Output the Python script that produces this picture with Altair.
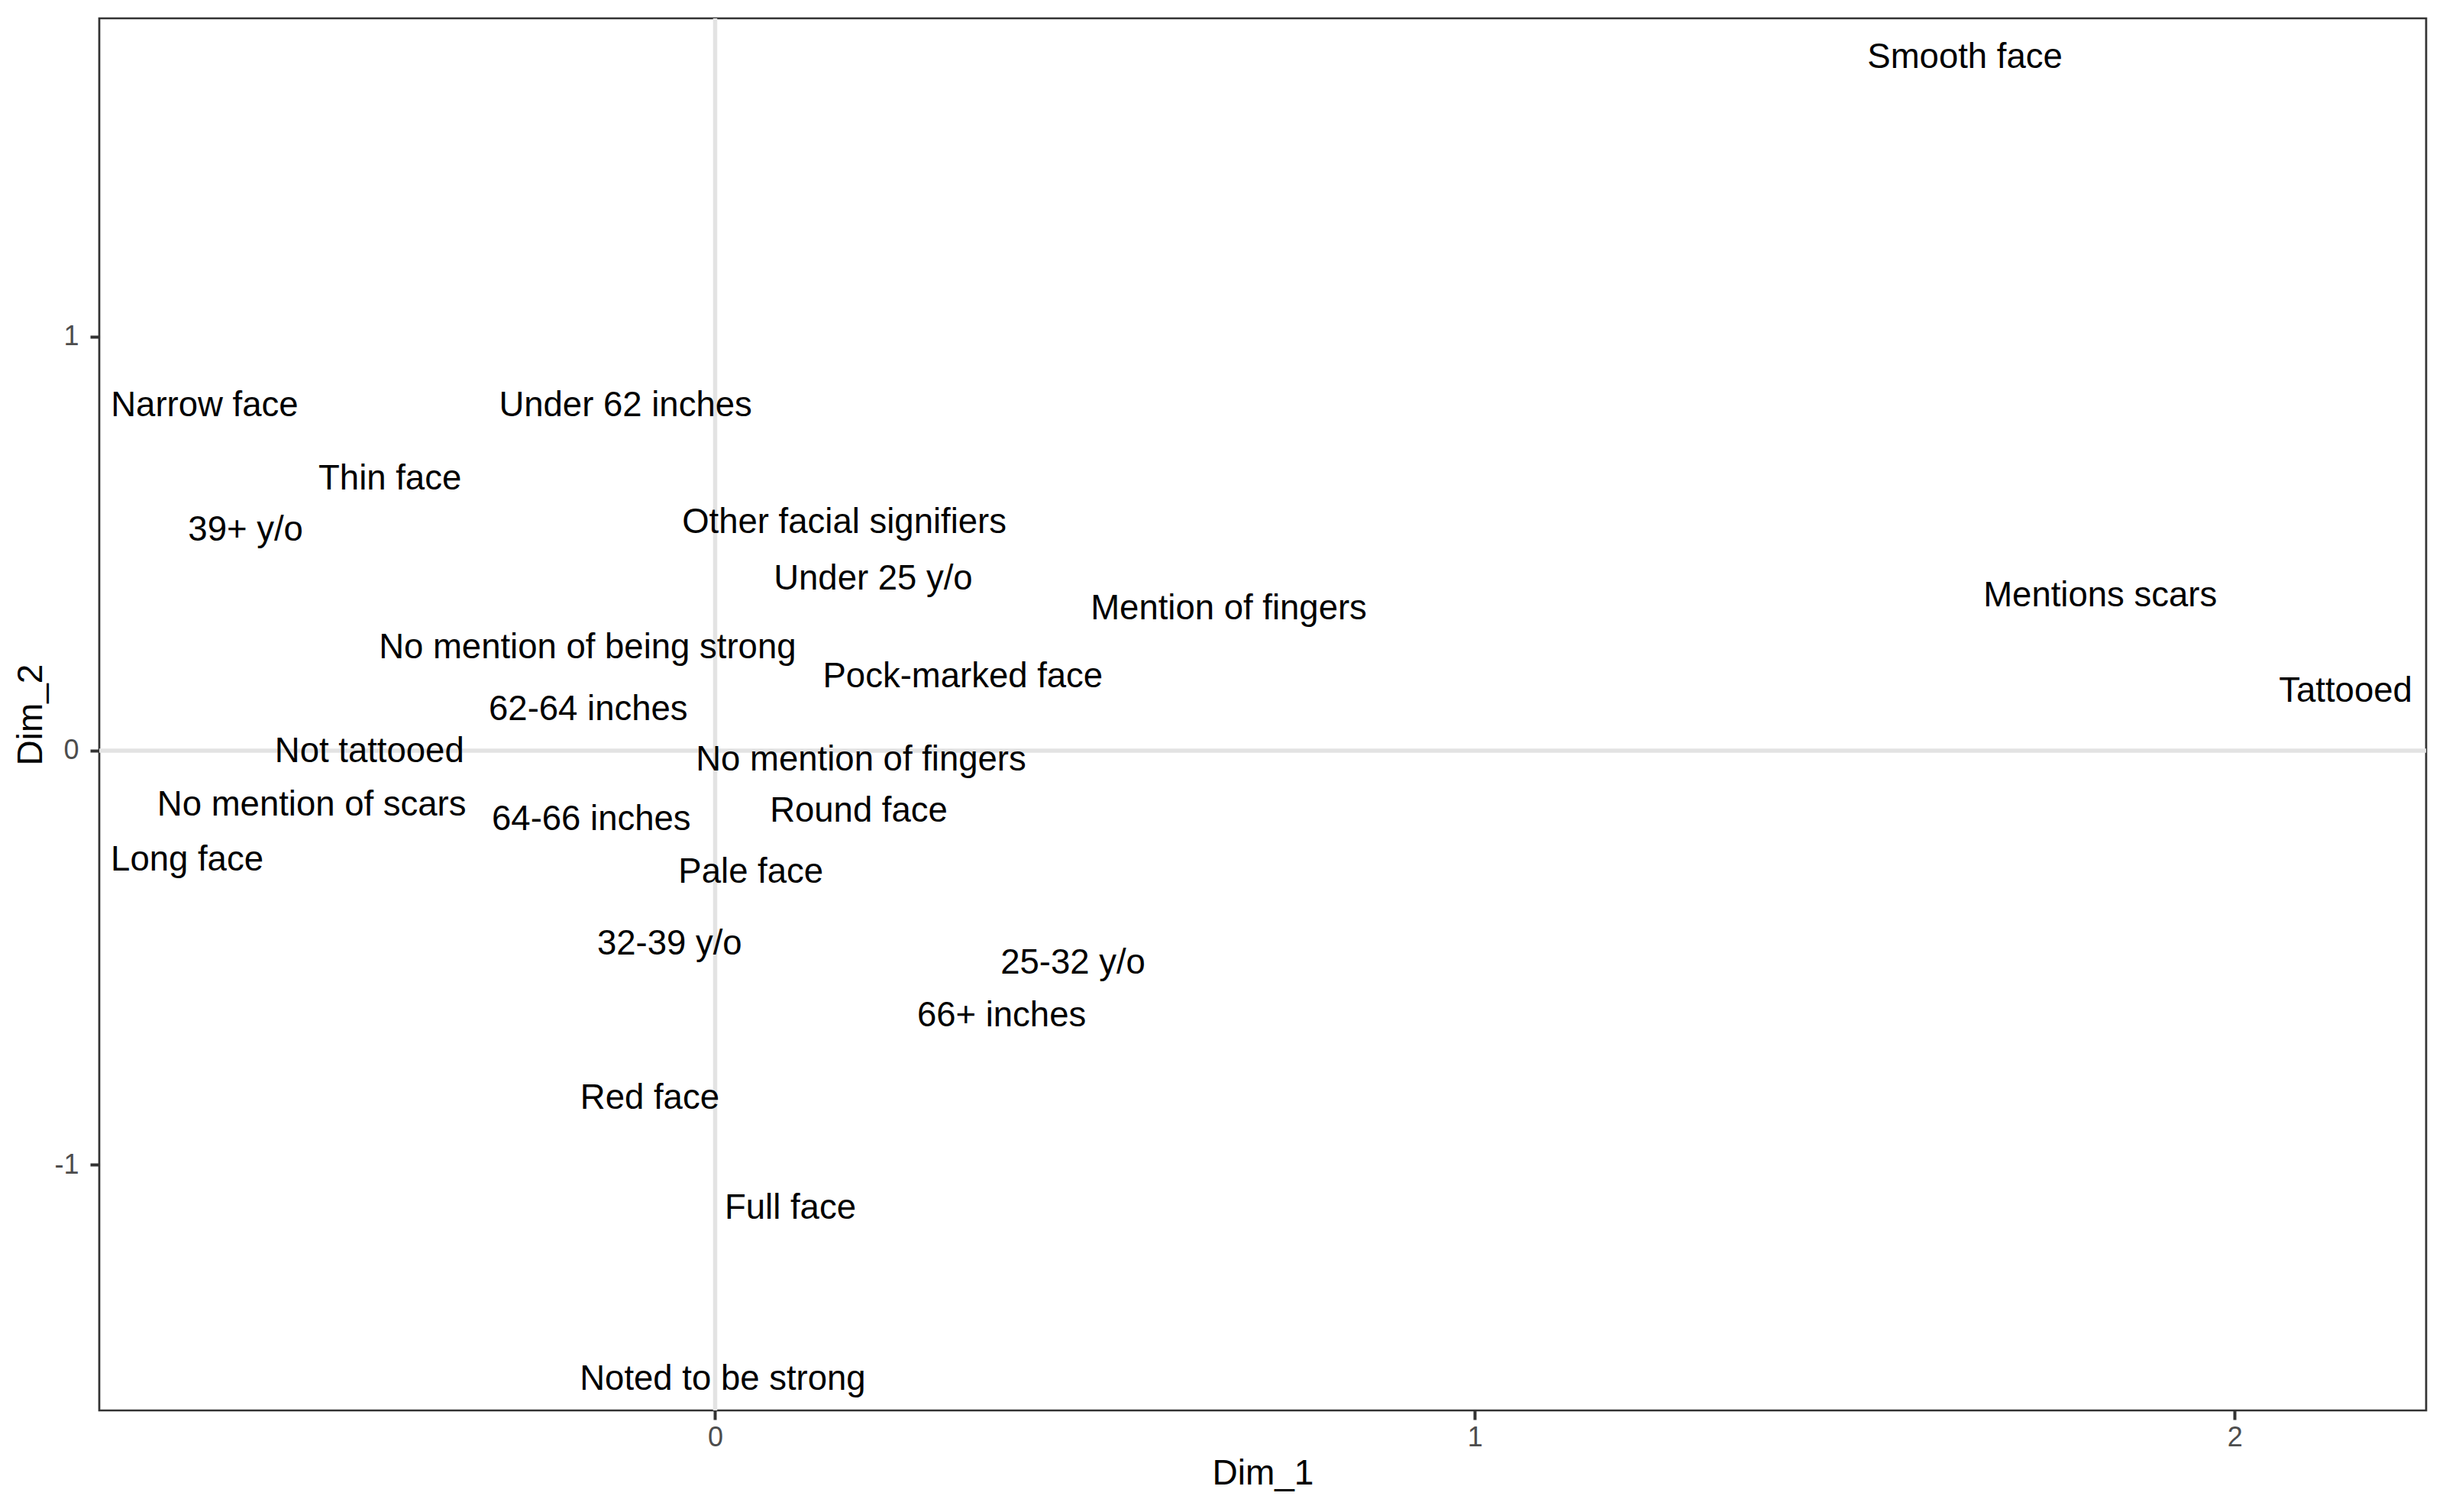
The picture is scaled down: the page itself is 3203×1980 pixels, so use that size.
import altair as alt
import pandas as pd

labels = ["Smooth face", "Narrow face", "Under 62 inches", "Thin face", "39+ y/o",
          "Other facial signifiers", "Under 25 y/o", "Mention of fingers", "Mentions scars",
          "Tattooed", "No mention of being strong", "Pock-marked face", "62-64 inches",
          "Not tattooed", "No mention of fingers", "No mention of scars", "64-66 inches",
          "Round face", "Long face", "Pale face", "32-39 y/o", "25-32 y/o", "66+ inches",
          "Red face", "Full face", "Noted to be strong"]
dim1 = [1.645, -0.672, -0.118, -0.428, -0.618, 0.170, 0.208, 0.676, 1.823, 2.146,
        -0.168, 0.326, -0.167, -0.455, 0.192, -0.531, -0.163, 0.189, -0.695, 0.047,
        -0.060, 0.471, 0.377, -0.086, 0.099, 0.010]
dim2 = [1.683, 0.842, 0.842, 0.664, 0.540, 0.559, 0.423, 0.351, 0.382, 0.152,
        0.257, 0.186, 0.106, 0.005, -0.014, -0.124, -0.158, -0.139, -0.256, -0.286,
        -0.459, -0.505, -0.633, -0.833, -1.097, -1.511]

x_ticks = [0, 1, 2]
y_ticks = [-1, 0, 1]
x_domain = [-0.8106, 2.252]
y_domain = [-1.594, 1.769]

df = pd.DataFrame({"label": labels, "Dim_1": dim1, "Dim_2": dim2})
zero = pd.DataFrame({"v": [0]})

FONT = "Liberation Sans"
LABEL_EXPR = "datum.value < 0 ? '-' + abs(datum.value) : '' + datum.value"

xscale = alt.Scale(domain=x_domain, nice=False, zero=False)
yscale = alt.Scale(domain=y_domain, nice=False, zero=False)

xaxis = alt.Axis(title="Dim_1", values=x_ticks, labelExpr=LABEL_EXPR, grid=False, domain=False,
                 tickSize=12, tickWidth=4, tickColor="#333333",
                 labelFontSize=36, labelColor="#4d4d4d", labelPadding=6, labelFont=FONT,
                 titleFontSize=46, titleFont=FONT, titleColor="#000000", titleFontWeight="normal",
                 titlePadding=7)
yaxis = alt.Axis(title="Dim_2", values=y_ticks, labelExpr=LABEL_EXPR, grid=False, domain=False,
                 tickSize=12, tickWidth=4, tickColor="#333333",
                 labelFontSize=36, labelColor="#4d4d4d", labelPadding=15, labelFont=FONT,
                 titleFontSize=46, titleFont=FONT, titleColor="#000000", titleFontWeight="normal",
                 titlePadding=6)

vrule = alt.Chart(zero).mark_rule(color="#e3e3e3", strokeWidth=5.5).encode(
    x=alt.X("v:Q", scale=xscale, axis=xaxis))
hrule = alt.Chart(zero).mark_rule(color="#e3e3e3", strokeWidth=5.5).encode(
    y=alt.Y("v:Q", scale=yscale, axis=yaxis))

text = alt.Chart(df).mark_text(font=FONT, fontSize=45.5, color="#000000",
                               align="center", baseline="middle", dy=4).encode(
    x=alt.X("Dim_1:Q", scale=xscale, axis=xaxis),
    y=alt.Y("Dim_2:Q", scale=yscale, axis=yaxis),
    text="label:N")

chart = alt.layer(vrule, hrule, text).properties(
    width=3047, height=1823,
    autosize=alt.AutoSizeParams(type="none"),
    padding={"left": 122, "top": 16, "right": 17, "bottom": 125},
    background="white",
).configure_view(stroke="#333333", strokeWidth=2.7)

chart.save("out.html", embed_options={"renderer": "svg", "actions": False})
